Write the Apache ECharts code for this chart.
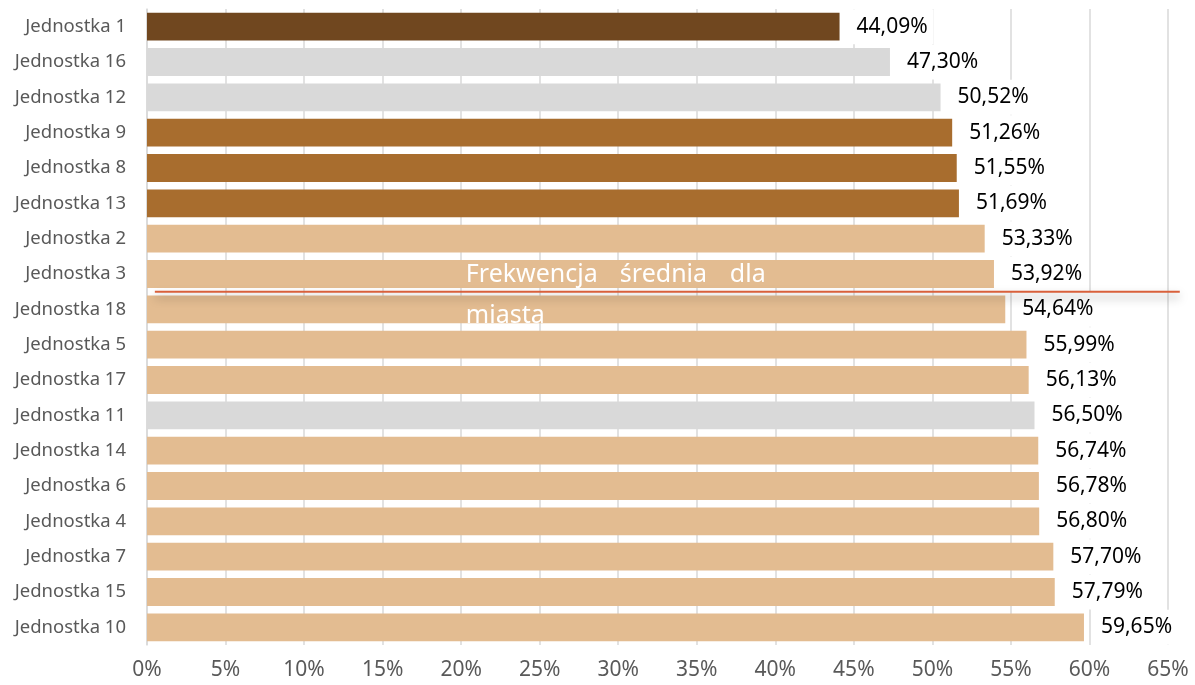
<!DOCTYPE html>
<html>
<head>
<meta charset="utf-8">
<script src="https://cdn.jsdelivr.net/npm/echarts@6/dist/echarts.min.js"></script>
<style>
html,body{margin:0;padding:0;background:#fff;}
#chart{width:1195px;height:685px;}
</style>
</head>
<body>
<div id="chart"></div>
<script>
// ---- data ----
var categories = ['Jednostka 1','Jednostka 16','Jednostka 12','Jednostka 9','Jednostka 8','Jednostka 13','Jednostka 2','Jednostka 3','Jednostka 18','Jednostka 5','Jednostka 17','Jednostka 11','Jednostka 14','Jednostka 6','Jednostka 4','Jednostka 7','Jednostka 15','Jednostka 10'];
var values = [44.09,47.30,50.52,51.26,51.55,51.69,53.33,53.92,54.64,55.99,56.13,56.50,56.74,56.78,56.80,57.70,57.79,59.65];
var groups = ['dark','gray','gray','mid','mid','mid','light','light','light','light','light','gray','light','light','light','light','light','light'];
var xTicks = [0,5,10,15,20,25,30,35,40,45,50,55,60,65];
var avgLabelWords = ['Frekwencja','średnia','dla','miasta'];
var avgBetween = ['Jednostka 3','Jednostka 18'];

// ---- styles ----
var groupColors = {dark:'#70471F', mid:'#A86D2E', light:'#E3BC91', gray:'#D9D9D9'};
var FONT = 'Noto Sans';

var chart = echarts.init(document.getElementById('chart'));
var option = {
  animation:false,
  backgroundColor:'#fff',
  grid:{left:147,right:27,top:9,bottom:40,containLabel:false},
  xAxis:{
    type:'value', min:xTicks[0], max:xTicks[xTicks.length-1], interval:5,
    axisLine:{show:false}, axisTick:{show:false},
    splitLine:{show:true,lineStyle:{color:'#D9D9D9',width:1.5}},
    axisLabel:{formatter:function(v){return v+'%';},color:'#595959',fontFamily:FONT,fontSize:21,margin:15}
  },
  yAxis:{
    type:'category', data:categories, inverse:true,
    axisLine:{show:true,lineStyle:{color:'#D9D9D9',width:1.5}},
    axisTick:{show:false},
    axisLabel:{color:'#595959',fontFamily:FONT,fontSize:18.5,margin:21}
  },
  series:[{
    type:'bar',
    barCategoryGap:'21%',
    data:values.map(function(v,i){return {value:v,itemStyle:{color:groupColors[groups[i]]}};}),
    label:{
      show:true, position:'right', distance:11,
      formatter:function(p){return p.value.toFixed(2).replace('.',',')+'%';},
      color:'#000', fontFamily:FONT, fontSize:21,
      backgroundColor:'#fff', padding:[7,6,7,6]
    },
    z:2
  }]
};
chart.setOption(option);

// annotation: average line drawn between the two categories
var y1 = chart.convertToPixel({yAxisIndex:0}, avgBetween[0]);
var y2 = chart.convertToPixel({yAxisIndex:0}, avgBetween[1]);
var yLine = (y1+y2)/2;
var xStart = chart.convertToPixel({xAxisIndex:0}, 0.5);
var xEnd = chart.convertToPixel({xAxisIndex:0}, 65.75);
var xText = chart.convertToPixel({xAxisIndex:0}, 20.3);
var tFont = '25px "Noto Sans"';
chart.setOption({
  graphic:[
    {type:'line', z:100, shape:{x1:xStart,y1:yLine,x2:xEnd,y2:yLine},
     style:{stroke:'#D9603B',lineWidth:2,shadowColor:'rgba(0,0,0,0.4)',shadowBlur:10,shadowOffsetY:5}},
    {type:'text', z:101, x:xText, y:yLine-4,
     style:{text:avgLabelWords[0],fill:'#fff',font:tFont,textVerticalAlign:'bottom'}},
    {type:'text', z:101, x:xText+154, y:yLine-4,
     style:{text:avgLabelWords[1],fill:'#fff',font:tFont,textVerticalAlign:'bottom'}},
    {type:'text', z:101, x:xText+264, y:yLine-4,
     style:{text:avgLabelWords[2],fill:'#fff',font:tFont,textVerticalAlign:'bottom'}},
    {type:'text', z:101, x:xText, y:yLine+37,
     style:{text:avgLabelWords[3],fill:'#fff',font:tFont,textVerticalAlign:'bottom'}}
  ]
});
</script>
</body>
</html>
